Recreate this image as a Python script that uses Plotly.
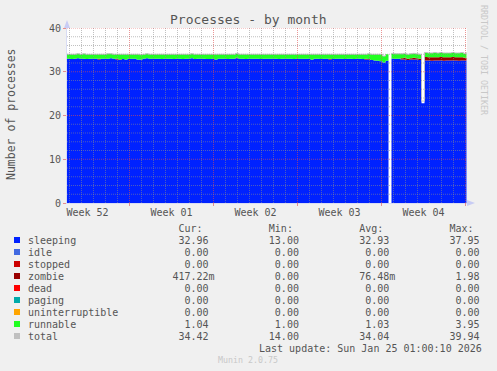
import plotly.graph_objects as go
import pandas as pd

# ---------------- data (6-hour samples) ----------------
sleeping = [
    33.0, 33.0, 32.9, 33.0, 33.1, 33.0, 33.0, 32.9, 33.0, 33.0,
    33.0, 32.8, 33.0, 33.0, 33.0, 33.1, 33.0, 32.8, 32.7, 32.9,
    32.8, 33.0, 33.0, 33.0, 32.8, 32.8, 33.0, 33.1, 33.0, 33.0,
    33.0, 33.0, 32.9, 33.0, 33.0, 33.0, 32.9, 33.0, 33.0, 32.9,
    33.0, 33.0, 33.1, 32.9, 33.0, 33.0, 33.0, 32.9, 32.9, 33.0,
    32.8, 33.0, 33.0, 33.0, 32.9, 33.0, 33.0, 33.1, 33.0, 33.0,
    32.9, 33.0, 33.0, 33.0, 33.0, 32.9, 33.0, 33.0, 33.0, 33.0,
    33.0, 32.9, 33.0, 33.0, 33.0, 33.0, 32.9, 33.0, 33.0, 33.0,
    33.0, 33.0, 32.8, 33.0, 33.0, 32.9, 33.0, 33.0, 32.8, 32.9,
    33.0, 33.0, 33.0, 32.9, 33.0, 33.0, 32.9, 33.0, 33.0, 32.9,
    32.8, 32.8, 32.7, 32.6, 32.5, 32.4, 32.1, 32.5, 0.0, 33.0,
    33.0, 33.0, 32.8, 32.8, 32.7, 32.8, 32.8, 32.8, 32.7, 22.8,
    32.6, 32.6, 32.5, 32.6, 32.6, 32.6, 32.5, 32.6, 32.6, 32.6,
    32.6, 32.5, 32.6, 32.6, 32.96,
]
zombie = [
    0.0, 0.0, 0.0, 0.0, 0.0, 0.0, 0.0, 0.0, 0.0, 0.0,
    0.0, 0.2, 0.0, 0.0, 0.0, 0.0, 0.0, 0.2, 0.1, 0.0,
    0.0, 0.0, 0.0, 0.0, 0.0, 0.0, 0.0, 0.0, 0.0, 0.0,
    0.0, 0.0, 0.0, 0.0, 0.0, 0.0, 0.0, 0.0, 0.0, 0.0,
    0.0, 0.0, 0.0, 0.0, 0.0, 0.0, 0.0, 0.0, 0.0, 0.0,
    0.0, 0.0, 0.0, 0.0, 0.0, 0.0, 0.0, 0.1, 0.0, 0.0,
    0.0, 0.0, 0.0, 0.0, 0.0, 0.0, 0.0, 0.0, 0.0, 0.0,
    0.0, 0.0, 0.0, 0.0, 0.0, 0.0, 0.0, 0.0, 0.0, 0.0,
    0.0, 0.0, 0.0, 0.0, 0.0, 0.0, 0.0, 0.0, 0.2, 0.0,
    0.0, 0.0, 0.0, 0.0, 0.0, 0.0, 0.0, 0.0, 0.0, 0.0,
    0.2, 0.1, 0.0, 0.0, 0.0, 0.0, 0.0, 0.0, 0.0, 0.0,
    0.0, 0.0, 0.3, 0.4, 0.3, 0.3, 0.4, 0.3, 0.3, 0.0,
    0.8, 0.7, 0.8, 0.7, 0.7, 0.8, 0.8, 0.7, 0.7, 0.8,
    0.7, 0.8, 0.7, 0.6, 0.42,
]
runnable = [
    1.0, 1.0, 1.1, 1.0, 1.0, 1.0, 1.1, 1.1, 1.0, 1.0,
    1.0, 1.0, 1.0, 1.0, 1.1, 1.0, 1.0, 1.0, 1.2, 1.1,
    1.2, 1.0, 1.0, 1.0, 1.2, 1.1, 1.0, 1.0, 1.0, 1.0,
    1.0, 1.0, 1.1, 1.0, 1.0, 1.0, 1.1, 1.0, 1.0, 1.1,
    1.0, 1.0, 1.0, 1.1, 1.0, 1.0, 1.0, 1.1, 1.1, 1.0,
    1.2, 1.0, 1.0, 1.0, 1.1, 1.0, 1.0, 1.0, 1.0, 1.0,
    1.1, 1.0, 1.0, 1.0, 1.0, 1.1, 1.0, 1.0, 1.0, 1.0,
    1.0, 1.1, 1.0, 1.0, 1.0, 1.0, 1.1, 1.0, 1.0, 1.0,
    1.0, 1.0, 1.2, 1.0, 1.0, 1.1, 1.0, 1.0, 1.0, 1.1,
    1.0, 1.0, 1.0, 1.1, 1.0, 1.0, 1.1, 1.0, 1.0, 1.1,
    1.0, 1.2, 1.3, 1.4, 1.5, 1.6, 1.5, 1.5, 0.0, 1.2,
    1.1, 1.1, 1.0, 1.0, 1.0, 1.0, 1.0, 1.0, 1.0, 0.0,
    1.0, 1.0, 1.0, 1.1, 1.0, 1.0, 1.0, 1.0, 1.0, 1.0,
    1.0, 1.0, 1.1, 1.0, 1.04,
]
total = [
    34.0, 34.0, 34.0, 34.0, 34.1, 34.0, 34.1, 34.0, 34.0, 34.0,
    34.0, 34.0, 34.0, 34.0, 34.1, 34.1, 34.0, 34.0, 34.0, 34.0,
    34.0, 34.0, 34.0, 34.0, 34.0, 33.9, 34.0, 34.1, 34.0, 34.0,
    34.0, 34.0, 34.0, 34.0, 34.0, 34.0, 34.0, 34.0, 34.0, 34.0,
    34.0, 34.0, 34.1, 34.0, 34.0, 34.0, 34.0, 34.0, 34.0, 34.0,
    34.0, 34.0, 34.0, 34.0, 34.0, 34.0, 34.0, 34.2, 34.0, 34.0,
    34.0, 34.0, 34.0, 34.0, 34.0, 34.0, 34.0, 34.0, 34.0, 34.0,
    34.0, 34.0, 34.0, 34.0, 34.0, 34.0, 34.0, 34.0, 34.0, 34.0,
    34.0, 34.0, 34.0, 34.0, 34.0, 34.0, 34.0, 34.0, 34.0, 34.0,
    34.0, 34.0, 34.0, 34.0, 34.0, 34.0, 34.0, 34.0, 34.0, 34.0,
    34.0, 34.1, 34.0, 34.0, 34.0, 34.0, 33.6, 34.0, None, 34.2,
    34.1, 34.1, 34.1, 34.2, 34.0, 34.1, 34.2, 34.1, 34.0, 23.3,
    34.4, 34.3, 34.3, 34.4, 34.3, 34.4, 34.3, 34.3, 34.3, 34.4,
    34.3, 34.3, 34.4, 34.2, 34.42,
]
first_sample = "2025-12-23 14:00"
x_range = ["2025-12-23 19:00", "2026-01-26 03:00"]

week_centers = ["2025-12-25 12:00", "2026-01-01 12:00", "2026-01-08 12:00",
                "2026-01-15 12:00", "2026-01-22 12:00"]
week_labels = ["Week 52", "Week 01", "Week 02", "Week 03", "Week 04"]
y_ticks = [0, 10, 20, 30, 40]

legend_names = ["sleeping", "idle", "stopped", "zombie", "dead", "paging",
                "uninterruptible", "runnable", "total"]
legend_colors = ["#0022ff", "#4169e1", "#cc0000", "#990000", "#ff0000",
                 "#00aaaa", "#ffa500", "#22ff22", "#c0c0c0"]
cur_vals = ["32.96", "0.00", "0.00", "417.22m", "0.00", "0.00", "0.00", "1.04", "34.42"]
min_vals = ["13.00", "0.00", "0.00", "0.00", "0.00", "0.00", "0.00", "1.00", "14.00"]
avg_vals = ["32.93", "0.00", "0.00", "76.48m", "0.00", "0.00", "0.00", "1.03", "34.04"]
max_vals = ["37.95", "0.00", "0.00", "1.98", "0.00", "0.00", "0.00", "3.95", "39.94"]

title = "Processes - by month"
y_title = "Number of processes"
last_update = "Last update: Sun Jan 25 01:00:10 2026"
watermark = "Munin 2.0.75"
side_text = "RRDTOOL / TOBI OETIKER"

# ---------------- layout geometry ----------------
W, H = 497, 371
L, R, T, B = 67, 467, 28, 203
FONT = "DejaVu Sans Mono"
TXT = "#555555"


def px(x):
    return (x - L) / (R - L)


def py(y):
    return (B - y) / (B - T)


times = pd.date_range(first_sample, periods=len(sleeping), freq="6h")

fig = go.Figure()
for name, vals, col in [("sleeping", sleeping, "#0022ff"),
                        ("zombie", zombie, "#990000"),
                        ("runnable", runnable, "#22ff22")]:
    fig.add_trace(go.Scatter(
        x=times, y=vals, name=name, stackgroup="one", mode="lines",
        line=dict(width=0, shape="hv"), fillcolor=col, hoverinfo="skip",
        showlegend=False))
fig.add_trace(go.Scatter(
    x=times, y=total, name="total", mode="lines",
    line=dict(width=1, color="#c0c0c0", shape="hv"), connectgaps=False,
    showlegend=False))

shapes = []
minor_col = "rgba(140,140,140,0.55)"
major_col = "rgba(222,79,79,0.6)"
days = pd.date_range("2025-12-24", "2026-01-26", freq="D")
for d in days:
    major = d.weekday() == 0
    shapes.append(dict(type="line", xref="x", yref="paper", x0=d, x1=d, y0=0, y1=1,
                       layer="above",
                       line=dict(color=major_col if major else minor_col, width=1,
                                 dash="1px,1px")))
    if major:
        shapes.append(dict(type="line", xref="x", yref="paper", x0=d, x1=d,
                           y0=py(206), y1=0, layer="above",
                           line=dict(color=major_col, width=1)))
for yv in range(2, 41, 2):
    major = yv % 10 == 0
    shapes.append(dict(type="line", xref="paper", yref="y", x0=0, x1=1, y0=yv, y1=yv,
                       layer="above",
                       line=dict(color=major_col if major else minor_col, width=1,
                                 dash="1px,1px")))
# axis arrows
arrow_col = "#c8ccf4"
shapes.append(dict(type="path", xref="paper", yref="paper", layer="above",
                   path=f"M {px(64)} {py(28)} L {px(70)} {py(28)} L {px(67)} {py(20)} Z",
                   fillcolor=arrow_col, line=dict(width=0)))
shapes.append(dict(type="path", xref="paper", yref="paper", layer="above",
                   path=f"M {px(467)} {py(200)} L {px(467)} {py(206)} L {px(475)} {py(203)} Z",
                   fillcolor=arrow_col, line=dict(width=0)))

annotations = []
# title
annotations.append(dict(text=title, x=px(248), y=py(19), xref="paper", yref="paper",
                        xanchor="center", yanchor="middle", showarrow=False,
                        font=dict(family=FONT, size=13, color=TXT)))
# y title
annotations.append(dict(text=y_title, x=px(11), y=py(114), xref="paper", yref="paper",
                        xanchor="center", yanchor="middle", showarrow=False, textangle=-90,
                        font=dict(family=FONT, size=11.5, color=TXT)))
# side watermark
annotations.append(dict(text=side_text, x=px(484), y=py(60), xref="paper", yref="paper",
                        xanchor="center", yanchor="middle", showarrow=False, textangle=90,
                        font=dict(family=FONT, size=8.3, color="#c8c8c8")))

NB = "\u00a0"


def fmt(v):
    return (v if v.endswith("m") else v + " ").rjust(15)


header = " " * 25 + "Cur:" + " " * 11 + "Min:" + " " * 11 + "Avg:" + " " * 11 + "Max:"
annotations.append(dict(text=header.replace(" ", NB), x=px(26.5), y=py(228),
                        xref="paper", yref="paper", xanchor="left", yanchor="middle",
                        showarrow=False, borderpad=0,
                        font=dict(family=FONT, size=10, color=TXT)))
for i, nm in enumerate(legend_names):
    yc = 240 + 12 * i
    row = nm.ljust(16) + fmt(cur_vals[i]) + fmt(min_vals[i]) + fmt(avg_vals[i]) + fmt(max_vals[i])
    annotations.append(dict(text=row.replace(" ", NB), x=px(26.5), y=py(yc),
                            xref="paper", yref="paper", xanchor="left", yanchor="middle",
                            showarrow=False, borderpad=0,
                            font=dict(family=FONT, size=10, color=TXT)))
    shapes.append(dict(type="rect", xref="paper", yref="paper",
                       x0=px(14), x1=px(20), y0=py(yc + 3), y1=py(yc - 3),
                       fillcolor=legend_colors[i], line=dict(width=0)))
annotations.append(dict(text=last_update.replace(" ", NB), x=px(483), y=py(348),
                        xref="paper", yref="paper", xanchor="right", yanchor="middle",
                        showarrow=False, borderpad=0,
                        font=dict(family=FONT, size=10, color=TXT)))
annotations.append(dict(text=watermark.replace(" ", NB), x=px(248), y=py(360),
                        xref="paper", yref="paper", xanchor="center", yanchor="middle",
                        showarrow=False, borderpad=0,
                        font=dict(family=FONT, size=8.3, color="#c8c8c8")))

fig.update_layout(
    width=W, height=H, autosize=False,
    margin=dict(l=L, r=W - R, t=T, b=H - B, pad=0),
    paper_bgcolor="#f0f0f0", plot_bgcolor="#ffffff",
    font=dict(family=FONT, size=10, color=TXT),
    showlegend=False,
    shapes=shapes, annotations=annotations,
    xaxis=dict(type="date", range=x_range, tickmode="array", tickvals=week_centers,
               ticktext=week_labels, showgrid=False, ticks="", zeroline=False,
               showline=True, linecolor="#d8dcf4", linewidth=1,
               tickfont=dict(family=FONT, size=10, color=TXT), fixedrange=True),
    yaxis=dict(range=[0, 40], tickmode="array", tickvals=y_ticks, showgrid=False,
               zeroline=False, ticks="outside", ticklen=3, tickcolor=major_col,
               showline=True, linecolor="#d8dcf4", linewidth=1,
               tickfont=dict(family=FONT, size=10, color=TXT), fixedrange=True),
)

fig.write_html("out.html")
